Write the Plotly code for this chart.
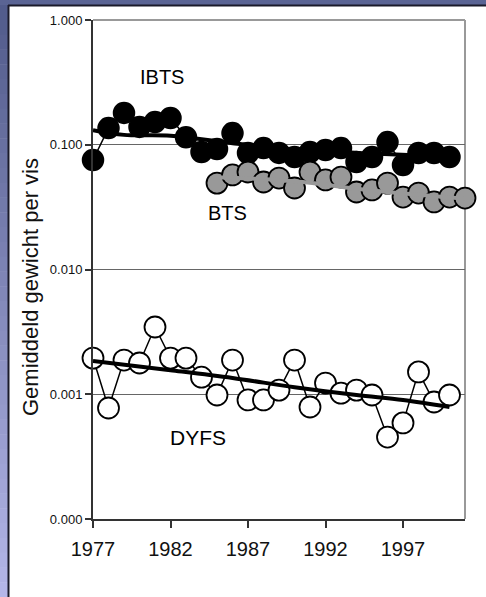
import plotly.graph_objects as go

# ---------------- data ----------------
years_ibts = list(range(1977, 2001))
ibts = [0.0755, 0.136, 0.180, 0.139, 0.152, 0.164, 0.115, 0.0875, 0.0925, 0.124,
        0.0859, 0.094, 0.086, 0.0798, 0.0875, 0.0908, 0.094, 0.0727, 0.0798, 0.105,
        0.0689, 0.0859, 0.0859, 0.0798]

years_bts = list(range(1985, 2002))
bts = [0.0493, 0.0573, 0.0605, 0.0503, 0.0541, 0.045, 0.0605, 0.0522, 0.0551, 0.0418,
       0.0434, 0.0493, 0.0381, 0.041, 0.0348, 0.0381, 0.0374]

years_dyfs = list(range(1977, 2001))
dyfs = [0.00195, 0.000776, 0.00188, 0.00178, 0.00346, 0.00195, 0.00195, 0.00137,
        0.000986, 0.00188, 0.0009, 0.0009, 0.00108, 0.00188, 0.00079, 0.00123,
        0.00102, 0.00108, 0.000986, 0.000454, 0.000589, 0.00151, 0.000867, 0.000986]

trend_ibts_years = [1977, 1979, 1982, 1986, 1990, 1995, 2000]
trend_ibts = [0.131, 0.120, 0.118, 0.103, 0.092, 0.085, 0.080]

trend_bts_years = [1985, 1990, 1995, 2001]
trend_bts = [0.055, 0.051, 0.043, 0.037]

trend_dyfs_years = [1977, 1982, 1986, 1990, 1994, 1997, 2000]
trend_dyfs = [0.00185, 0.00156, 0.00135, 0.00114, 0.000986, 0.0009, 0.00079]

ytick_vals = [0.0001, 0.001, 0.01, 0.1, 1.0]
ytick_text = ["0.000", "0.001", "0.010", "0.100", "1.000"]
xtick_vals = [1977, 1982, 1987, 1992, 1997]
xtick_text = ["1977", "1982", "1987", "1992", "1997"]

# ---------------- layout geometry ----------------
W, H = 486, 597
L, R, T, B = 93, 465, 20, 519  # plot area in pixels


def px(x):
    return (x - L) / (R - L)


def py(y):
    return (B - y) / (B - T)


FONT = "Liberation Sans, Arial, sans-serif"

fig = go.Figure()

# connecting lines + markers
fig.add_trace(go.Scatter(
    x=years_ibts, y=ibts, mode="lines+markers", cliponaxis=False,
    line=dict(color="black", width=1.5),
    marker=dict(size=21, color="black", line=dict(color="black", width=1.5)),
    showlegend=False))
fig.add_trace(go.Scatter(
    x=years_bts, y=bts, mode="lines+markers", cliponaxis=False,
    line=dict(color="black", width=1.5),
    marker=dict(size=21, color="#999999", line=dict(color="black", width=1.8)),
    showlegend=False))
fig.add_trace(go.Scatter(
    x=years_dyfs, y=dyfs, mode="lines+markers", cliponaxis=False,
    line=dict(color="black", width=1.5),
    marker=dict(size=21, color="white", line=dict(color="black", width=1.8)),
    showlegend=False))

# trend lines
fig.add_trace(go.Scatter(x=trend_ibts_years, y=trend_ibts, mode="lines",
                         line=dict(color="black", width=4, shape="spline"),
                         showlegend=False))
fig.add_trace(go.Scatter(x=trend_bts_years, y=trend_bts, mode="lines",
                         line=dict(color="#999999", width=4, shape="spline"),
                         showlegend=False))
fig.add_trace(go.Scatter(x=trend_dyfs_years, y=trend_dyfs, mode="lines",
                         line=dict(color="black", width=4, shape="spline"),
                         showlegend=False))

shapes = []
# blue frame: top strip
shapes.append(dict(type="rect", xref="paper", yref="paper", layer="below",
                   x0=px(0), x1=px(W), y0=py(0), y1=py(5),
                   fillcolor="#5a6494", line=dict(width=0)))
# left strip gradient
n = 40
c0 = (0x52, 0x5c, 0x8c)
c1 = (0xb4, 0xb6, 0xe8)
for i in range(n):
    t = i / (n - 1)
    col = "rgb(%d,%d,%d)" % tuple(int(c0[k] + (c1[k] - c0[k]) * t) for k in range(3))
    y0 = 5 + (H - 5) * i / n
    y1 = 5 + (H - 5) * (i + 1) / n
    shapes.append(dict(type="rect", xref="paper", yref="paper", layer="below",
                       x0=px(0), x1=px(8), y0=py(y1 + 0.5), y1=py(y0),
                       fillcolor=col, line=dict(width=0)))
# dark border lines of the white panel
shapes.append(dict(type="line", xref="paper", yref="paper", layer="below",
                   x0=px(8), x1=px(W), y0=py(5.5), y1=py(5.5),
                   line=dict(color="#1a1a2a", width=2)))
shapes.append(dict(type="line", xref="paper", yref="paper", layer="below",
                   x0=px(8.5), x1=px(8.5), y0=py(5), y1=py(H),
                   line=dict(color="#1a1a2a", width=2)))
# grey top/right border of plot area
shapes.append(dict(type="line", xref="paper", yref="paper", layer="below",
                   x0=0, x1=1, y0=1, y1=1, line=dict(color="#999999", width=2)))
shapes.append(dict(type="line", xref="paper", yref="paper", layer="below",
                   x0=1, x1=1, y0=0, y1=1, line=dict(color="#999999", width=2)))

annotations = [
    dict(text="IBTS", x=px(162), y=py(77), xref="paper", yref="paper",
         xanchor="center", yanchor="middle",
         showarrow=False, font=dict(family=FONT, size=20, color="black")),
    dict(text="BTS", x=px(227), y=py(213), xref="paper", yref="paper",
         xanchor="center", yanchor="middle",
         showarrow=False, font=dict(family=FONT, size=20, color="black")),
    dict(text="DYFS", x=px(198), y=py(437), xref="paper", yref="paper",
         xanchor="center", yanchor="middle",
         showarrow=False, font=dict(family=FONT, size=21, color="black")),
    dict(text="Gemiddeld gewicht per vis", x=px(30), y=py(287),
         xref="paper", yref="paper", textangle=-90, showarrow=False,
         xanchor="center", yanchor="middle",
         font=dict(family=FONT, size=22, color="#111111")),
]

fig.update_layout(
    width=W, height=H,
    margin=dict(l=L, r=W - R, t=T, b=H - B, pad=0),
    paper_bgcolor="white", plot_bgcolor="white",
    shapes=shapes, annotations=annotations,
    xaxis=dict(range=[1977, 2001], tickvals=xtick_vals, ticktext=xtick_text,
               showgrid=False, zeroline=False, showline=True, linecolor="#333333",
               linewidth=2, ticks="outside", ticklen=7, tickwidth=1.5,
               tickcolor="#333333", ticklabelstandoff=4,
               tickfont=dict(family=FONT, size=20, color="#111111")),
    yaxis=dict(type="log", range=[-4, 0], tickvals=ytick_vals, ticktext=ytick_text,
               showgrid=True, gridcolor="#666666", gridwidth=1, zeroline=False,
               showline=True, linecolor="#333333", linewidth=2, ticks="outside",
               ticklen=6, tickwidth=1.5, tickcolor="#333333",
               tickfont=dict(family=FONT, size=13, color="#111111")),
)

fig.write_html("out.html", config={"displayModeBar": False},
               post_script="document.body.style.margin='0';document.body.style.overflow='hidden';")
